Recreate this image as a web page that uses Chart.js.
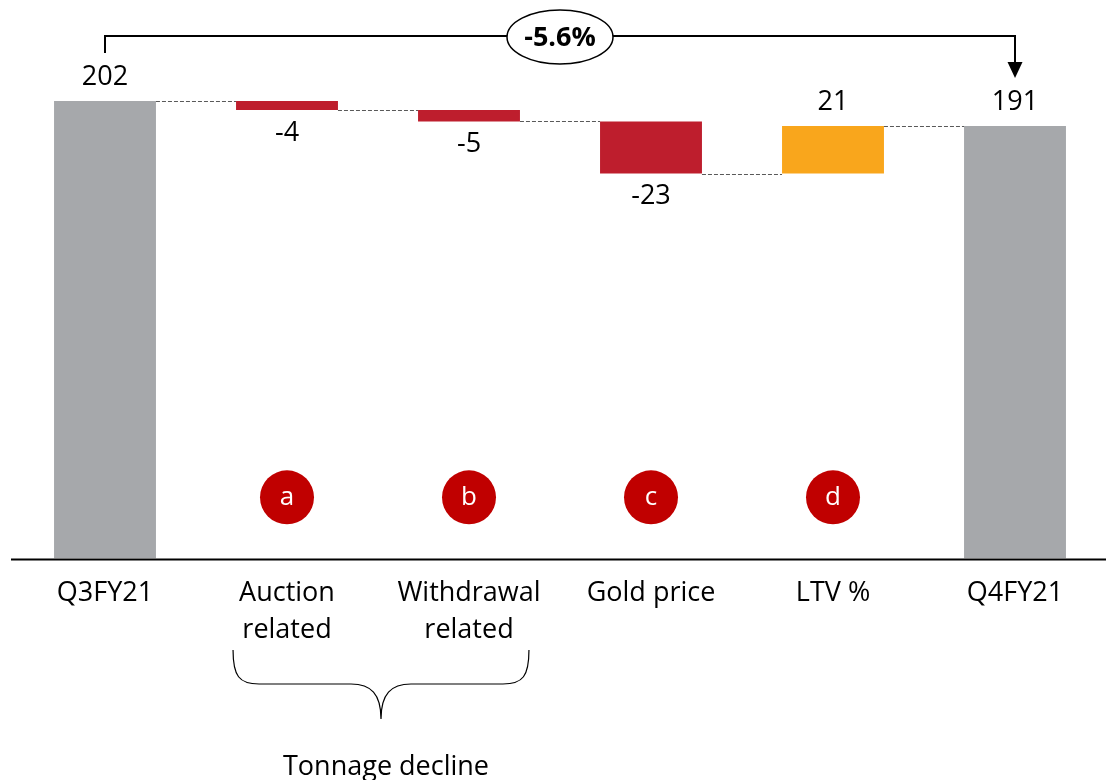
<!DOCTYPE html>
<html>
<head>
<meta charset="utf-8">
<script src="https://cdn.jsdelivr.net/npm/chart.js@4.4.1/dist/chart.umd.min.js"></script>
<style>
  html, body { margin: 0; padding: 0; background: #fff; }
  #wrap { width: 1106px; height: 780px; position: relative; }
</style>
</head>
<body>
<div id="wrap"><canvas id="chart"></canvas></div>
<script>
const CATEGORIES = ['Q3FY21', ['Auction', 'related'], ['Withdrawal', 'related'], 'Gold price', 'LTV %', 'Q4FY21'];
const OPENING = 202;
const CHANGES = [-4, -5, -23, 21];
const CLOSING = 191;
const MARKERS = ['', 'a', 'b', 'c', 'd', ''];
const GROWTH_LABEL = '-5.6%';
const GROUP_LABEL = 'Tonnage decline';

const GREY = '#a6a8ab';
const RED = '#be1e2d';
const ORANGE = '#f9a61c';
const MARKER_RED = '#c00000';
const FONT = '"Open Sans", Lato, sans-serif';

// floating bars [from, to] built from the start value and the changes
const RANGES = [[0, OPENING]];
const VALUES = [OPENING];
let run = OPENING;
CHANGES.forEach(c => {
    RANGES.push([run, run + c]);
    VALUES.push(c);
    run += c;
});
RANGES.push([0, CLOSING]);
VALUES.push(CLOSING);
const COLORS = VALUES.map((v, i) =>
    (i === 0 || i === VALUES.length - 1) ? GREY : (v < 0 ? RED : ORANGE));

const extras = {
    id: 'extras',
    afterDatasetsDraw(chart) {
        const { ctx, scales: { y } } = chart;
        const bars = chart.getDatasetMeta(0).data;
        ctx.save();

        // dashed connectors between bars
        ctx.strokeStyle = '#595959';
        ctx.lineWidth = 1;
        ctx.setLineDash([4, 2]);
        for (let i = 0; i < bars.length - 1; i++) {
            const py = Math.round(y.getPixelForValue(RANGES[i][1])) + 0.5;
            ctx.beginPath();
            ctx.moveTo(bars[i].x + bars[i].width / 2, py);
            ctx.lineTo(bars[i + 1].x - bars[i + 1].width / 2, py);
            ctx.stroke();
        }
        ctx.setLineDash([]);

        // baseline
        const by = y.getPixelForValue(0) + 1;
        ctx.strokeStyle = '#000';
        ctx.lineWidth = 2;
        ctx.beginPath();
        ctx.moveTo(11, by);
        ctx.lineTo(chart.width, by);
        ctx.stroke();

        // value labels
        ctx.fillStyle = '#000';
        ctx.font = '27px ' + FONT;
        ctx.textAlign = 'center';
        ctx.textBaseline = 'middle';
        bars.forEach((b, i) => {
            const top = Math.min(b.y, b.base);
            const bottom = Math.max(b.y, b.base);
            const v = VALUES[i];
            const ty = v >= 0 ? top - 24 : bottom + 23;
            ctx.fillText(String(v), b.x, ty);
        });

        // lettered markers
        const my = y.getPixelForValue(27);
        bars.forEach((b, i) => {
            if (!MARKERS[i]) return;
            ctx.fillStyle = MARKER_RED;
            ctx.beginPath();
            ctx.arc(b.x, my, 27, 0, Math.PI * 2);
            ctx.fill();
            ctx.fillStyle = '#fff';
            ctx.font = '26px ' + FONT;
            ctx.fillText(MARKERS[i], b.x, my);
        });

        // growth bracket with arrow
        const x0 = bars[0].x, x1 = bars[bars.length - 1].x;
        const ly = 36;
        ctx.strokeStyle = '#000';
        ctx.lineWidth = 2;
        ctx.beginPath();
        ctx.moveTo(x0, 53);
        ctx.lineTo(x0, ly);
        ctx.lineTo(x1, ly);
        ctx.lineTo(x1, 64);
        ctx.stroke();
        ctx.fillStyle = '#000';
        ctx.beginPath();
        ctx.moveTo(x1 - 7.5, 62);
        ctx.lineTo(x1 + 7.5, 62);
        ctx.lineTo(x1, 78);
        ctx.closePath();
        ctx.fill();

        const ex = (x0 + x1) / 2;
        ctx.beginPath();
        ctx.ellipse(ex, 37, 53, 27, 0, 0, Math.PI * 2);
        ctx.fillStyle = '#fff';
        ctx.fill();
        ctx.lineWidth = 1.5;
        ctx.stroke();
        ctx.fillStyle = '#000';
        ctx.font = 'bold 27px ' + FONT;
        ctx.fillText(GROWTH_LABEL, ex, 38);

        // curly brace under the tonnage categories
        const xl = bars[1].x - bars[1].width / 2 - 3;
        const xr = bars[2].x + bars[2].width / 2 + 9;
        const xm = (xl + xr) / 2;
        const yt = 650, yh = 684, tip = 719;
        ctx.lineWidth = 1.2;
        ctx.beginPath();
        ctx.moveTo(xl, yt);
        ctx.bezierCurveTo(xl, yh - 8, xl + 6, yh, xl + 26, yh);
        ctx.lineTo(xm - 30, yh);
        ctx.bezierCurveTo(xm - 10, yh, xm, yh + 10, xm, tip);
        ctx.moveTo(xr, yt);
        ctx.bezierCurveTo(xr, yh - 8, xr - 6, yh, xr - 26, yh);
        ctx.lineTo(xm + 30, yh);
        ctx.bezierCurveTo(xm + 10, yh, xm, yh + 10, xm, tip);
        ctx.stroke();

        ctx.font = '27px ' + FONT;
        ctx.textBaseline = 'alphabetic';
        ctx.fillText(GROUP_LABEL, xm + 5, 775);

        ctx.restore();
    }
};

new Chart(document.getElementById('chart'), {
    type: 'bar',
    data: {
        labels: CATEGORIES,
        datasets: [{
            data: RANGES,
            backgroundColor: COLORS,
            borderWidth: 0,
            barPercentage: 0.56,
            categoryPercentage: 1,
        }]
    },
    options: {
        responsive: true,
        maintainAspectRatio: false,
        animation: false,
        layout: { padding: { left: 14, right: 0, top: 15, bottom: 115 } },
        scales: {
            x: {
                grid: { display: false, drawTicks: false },
                border: { display: false },
                ticks: {
                    color: '#000',
                    padding: 16,
                    maxRotation: 0,
                    autoSkip: false,
                    font: { family: FONT, size: 27, lineHeight: 1.38 },
                },
            },
            y: {
                display: false,
                min: 0,
                max: 240,
            },
        },
        plugins: {
            legend: { display: false },
            tooltip: { enabled: false },
        }
    },
    plugins: [extras]
});
</script>
</body>
</html>
